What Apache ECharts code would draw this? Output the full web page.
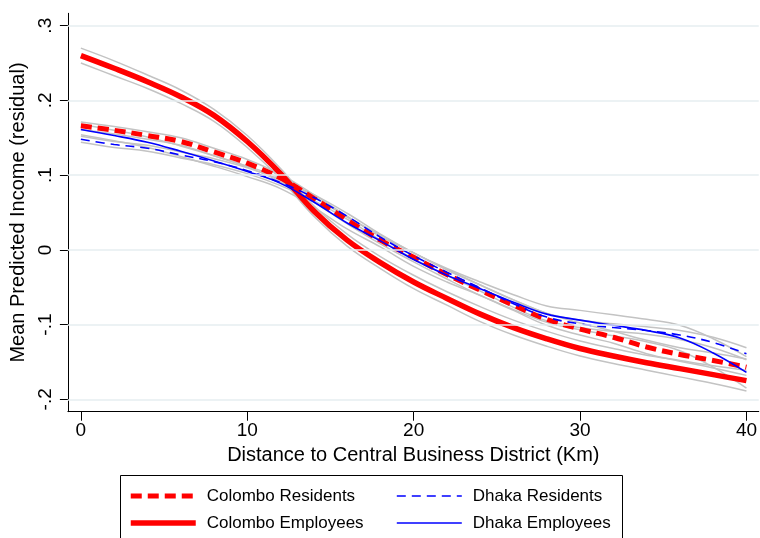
<!DOCTYPE html>
<html><head><meta charset="utf-8">
<script src="https://cdn.jsdelivr.net/npm/echarts@6/dist/echarts.min.js"></script>
<style>html,body{margin:0;padding:0;background:#fff}#c{width:760px;height:538px}</style>
</head><body><div id="c"></div><script>
const distance = [0,2,4,6,8,10,12,14,16,18,20,22,24,26,28,30,32,34,36,38,40];

const colomboRes   = [0.166,0.160,0.153,0.145,0.131,0.116,0.096,0.069,0.040,0.013,-0.010,-0.033,-0.054,-0.074,-0.093,-0.106,-0.117,-0.130,-0.140,-0.148,-0.157];
const colomboResHi = [0.171,0.165,0.158,0.150,0.136,0.121,0.101,0.074,0.045,0.018,-0.004,-0.027,-0.047,-0.067,-0.085,-0.098,-0.109,-0.121,-0.131,-0.138,-0.146];
const colomboResLo = [0.161,0.155,0.148,0.140,0.126,0.111,0.091,0.064,0.035,0.008,-0.016,-0.039,-0.061,-0.081,-0.101,-0.114,-0.125,-0.139,-0.149,-0.158,-0.168];

const colomboEmp   = [0.260,0.243,0.225,0.205,0.180,0.145,0.102,0.052,0.013,-0.017,-0.043,-0.065,-0.086,-0.104,-0.119,-0.132,-0.142,-0.151,-0.159,-0.167,-0.175];
const colomboEmpHi = [0.270,0.253,0.234,0.214,0.188,0.153,0.109,0.059,0.021,-0.009,-0.034,-0.056,-0.076,-0.094,-0.109,-0.122,-0.132,-0.141,-0.148,-0.155,-0.161];
const colomboEmpLo = [0.250,0.233,0.216,0.196,0.172,0.137,0.095,0.045,0.005,-0.025,-0.052,-0.074,-0.096,-0.114,-0.129,-0.142,-0.152,-0.161,-0.170,-0.179,-0.189];

const dhakaRes   = [0.148,0.141,0.136,0.127,0.118,0.106,0.090,0.070,0.045,0.017,-0.008,-0.030,-0.051,-0.072,-0.090,-0.099,-0.104,-0.108,-0.114,-0.124,-0.139];
const dhakaResHi = [0.152,0.145,0.140,0.131,0.122,0.110,0.094,0.074,0.049,0.021,-0.004,-0.026,-0.047,-0.067,-0.085,-0.094,-0.099,-0.103,-0.108,-0.117,-0.131];
const dhakaResLo = [0.144,0.137,0.132,0.123,0.114,0.102,0.086,0.066,0.041,0.013,-0.012,-0.034,-0.055,-0.077,-0.095,-0.104,-0.109,-0.113,-0.120,-0.131,-0.147];

const dhakaEmp   = [0.161,0.153,0.144,0.132,0.119,0.105,0.089,0.064,0.036,0.012,-0.013,-0.034,-0.052,-0.070,-0.086,-0.094,-0.101,-0.108,-0.118,-0.138,-0.164];
const dhakaEmpHi = [0.168,0.160,0.151,0.139,0.126,0.112,0.096,0.071,0.044,0.020,-0.004,-0.025,-0.043,-0.060,-0.075,-0.081,-0.087,-0.093,-0.101,-0.119,-0.143];
const dhakaEmpLo = [0.154,0.146,0.137,0.125,0.112,0.098,0.082,0.057,0.028,0.004,-0.022,-0.043,-0.061,-0.080,-0.097,-0.107,-0.115,-0.123,-0.135,-0.157,-0.185];

const xTickValues = [0,10,20,30,40];
const yTickValues = [-0.2,-0.1,0,0.1,0.2,0.3];
const yTickLabels = ['-.2','-.1','0','.1','.2','.3'];

const FONT = "'Liberation Sans', Arial, sans-serif";
const pairs = ys => distance.map((d, i) => [d, ys[i]]);
const GRAY = '#c3c3c3';
const SMOOTH = 0.4;
const grayLine = (ys, extra) => Object.assign({
  type: 'line', data: pairs(ys), symbol: 'none', smooth: SMOOTH, silent: true, z: 2,
  lineStyle: { color: GRAY, width: 1.5 }
}, extra || {});

const styles = {
  'Colombo Residents': { color: '#ff0000', width: 5, type: [11, 6] },
  'Colombo Employees': { color: '#ff0000', width: 5.5, type: 'solid' },
  'Dhaka Residents':   { color: '#0000ff', width: 1.6, type: [9, 6] },
  'Dhaka Employees':   { color: '#0000ff', width: 1.6, type: 'solid' }
};
const mainLine = (name, ys, z) => ({
  name, type: 'line', data: pairs(ys), symbol: 'none', smooth: SMOOTH, z,
  lineStyle: styles[name], itemStyle: { color: styles[name].color }
});

const series = [
  grayLine(colomboEmpHi, {
    markLine: {
      silent: true, symbol: 'none', label: { show: false },
      lineStyle: { color: '#e6eef1', width: 1.5, type: 'solid' },
      data: yTickValues.map(v => ({ yAxis: v }))
    }, z: 1
  }),
  grayLine(colomboEmpLo), grayLine(colomboResHi), grayLine(colomboResLo),
  grayLine(dhakaResHi), grayLine(dhakaResLo), grayLine(dhakaEmpHi), grayLine(dhakaEmpLo),
  mainLine('Colombo Residents', colomboRes, 3),
  mainLine('Colombo Employees', colomboEmp, 3),
  mainLine('Dhaka Residents', dhakaRes, 4),
  mainLine('Dhaka Employees', dhakaEmp, 4)
];

const legendItem = name => ({
  name, itemStyle: { opacity: 0, color: 'rgba(0,0,0,0)', borderWidth: 0 },
  lineStyle: { color: styles[name].color, width: styles[name].width, type: styles[name].type }
});
const legendBase = {
  orient: 'vertical', top: 486, padding: 0, itemWidth: 65, itemHeight: 14, itemGap: 7,
  selectedMode: false,
  itemStyle: { opacity: 0, color: 'rgba(0,0,0,0)', borderWidth: 0 },
  textStyle: { fontFamily: FONT, fontSize: 17, color: '#000', lineHeight: 20, padding: [0, 0, 0, 6] }
};

const chart = echarts.init(document.getElementById('c'), null, { renderer: 'canvas' });
chart.setOption({
  animation: false,
  backgroundColor: '#fff',
  grid: { left: 67, right: 0, top: 13.3, bottom: 126.3, containLabel: false },
  xAxis: {
    type: 'value', min: -0.78, max: 40.74,
    name: 'Distance to Central Business District (Km)', nameLocation: 'middle', nameGap: 30,
    nameTextStyle: { fontFamily: FONT, fontSize: 20, color: '#000' },
    axisLine: { show: true, onZero: false, lineStyle: { color: '#000', width: 1 } },
    axisTick: { show: true, length: 9, customValues: xTickValues, lineStyle: { color: '#000', width: 1 } },
    axisLabel: { customValues: xTickValues, margin: 10, fontFamily: FONT, fontSize: 19, color: '#000' },
    splitLine: { show: false }
  },
  yAxis: {
    type: 'value', min: -0.2166, max: 0.3166,
    name: 'Mean Predicted Income (residual)', nameLocation: 'middle', nameGap: 34, nameRotate: 90,
    nameTextStyle: { fontFamily: FONT, fontSize: 20, color: '#000' },
    axisLine: { show: true, onZero: false, lineStyle: { color: '#000', width: 1 } },
    axisTick: { show: true, length: 8, customValues: yTickValues, lineStyle: { color: '#000', width: 1 } },
    axisLabel: {
      customValues: yTickValues, rotate: 90, margin: 13, fontFamily: FONT, fontSize: 19, color: '#000',
      formatter: v => {
        let best = 0;
        yTickValues.forEach((t, i) => { if (Math.abs(t - v) < Math.abs(yTickValues[best] - v)) best = i; });
        return yTickLabels[best];
      }
    },
    splitLine: { show: false }
  },
  legend: [
    Object.assign({}, legendBase, { left: 128, data: ['Colombo Residents', 'Colombo Employees'].map(legendItem) }),
    Object.assign({}, legendBase, { left: 396, data: ['Dhaka Residents', 'Dhaka Employees'].map(legendItem) })
  ],
  graphic: [{
    type: 'rect', shape: { x: 120.5, y: 475.5, width: 502, height: 80 },
    style: { fill: 'none', stroke: '#000', lineWidth: 1 }, silent: true
  }],
  series: series
});
</script></body></html>
